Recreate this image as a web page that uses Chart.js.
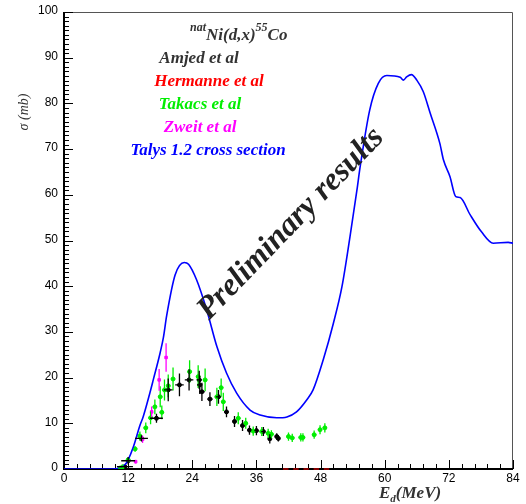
<!DOCTYPE html>
<html>
<head>
<meta charset="utf-8">
<script src="https://cdn.jsdelivr.net/npm/chart.js@4.4.0/dist/chart.umd.min.js"></script>
<style>
  html, body { margin: 0; padding: 0; background: #fff; overflow: hidden; }
  canvas { display: block; }
</style>
</head>
<body>
<canvas id="chart" width="526" height="504"></canvas>
<script>
// axis ticks
const xTicks = [0, 12, 24, 36, 48, 60, 72, 84];
const yTicks = [0, 10, 20, 30, 40, 50, 60, 70, 80, 90, 100];

// Talys 1.2 cross section (curve)
const talysE = [0, 9, 10.5, 11.4, 12, 13, 14.2, 14.8, 16.1, 16.7, 18, 18.6, 19.2, 20.8, 22.5, 23.3, 24.8, 26.7, 28.6, 30.4, 32.3, 34.8, 36.7, 39.8, 41.7, 43.5, 45.4, 46.6, 48.5, 50.4, 52, 53.5, 54.8, 55.4, 57.2, 58.8, 60.4, 62.9, 63.5, 64.1, 65, 66, 67.2, 68.5, 70.3, 71, 72.2, 73.3, 74.1, 76, 78.1, 80.3, 83.1, 84];
const talysS = [0, 0, 0.3, 0.9, 2.0, 4.9, 9.5, 11.4, 16.8, 19.5, 25.5, 28.8, 33.5, 42.5, 45.2, 44.8, 41.4, 34.8, 26.8, 21, 16.6, 12.9, 11.8, 11.2, 11.4, 12.5, 15.1, 17.3, 23.9, 31.9, 39.9, 50.8, 61, 66.1, 78.6, 84.4, 86.1, 85.7, 85.1, 85.8, 86.3, 85.1, 82.6, 77.9, 71.3, 67.6, 64, 59.6, 59.4, 55.6, 51.9, 49.4, 49.6, 49.4];

// Amjed et al
const amjedE = [11.4, 12.0, 14.5, 17.3, 19.5, 21.6, 23.4, 25.3, 25.4, 25.8, 27.3, 28.9, 30.4, 31.9, 33.4, 34.7, 36.0, 37.3, 38.5, 39.8, 40.1];
const amjedS = [0.5, 1.8, 6.7, 11.1, 17.3, 18.4, 19.5, 19.5, 18.4, 16.9, 15.3, 15.8, 12.5, 10.4, 9.5, 8.5, 8.4, 8.2, 6.6, 7.1, 6.7];
const amjedDE = [1.5, 1.3, 1.2, 1.2, 0.8, 0.8, 0.8, 0.5, 0.5, 0.5, 0.5, 0.5, 0.4, 0.4, 0.4, 0.4, 0.4, 0.4, 0.3, 0.3, 0.3];
const amjedDS = [0.4, 0.8, 0.7, 1.0, 2.5, 2.5, 2.3, 2.0, 2.0, 2.0, 1.5, 1.5, 1.2, 1.2, 1.2, 1.0, 1.0, 1.0, 1.0, 0.7, 0.7];

// Hermanne et al
const hermE = [41.5, 43.4, 45.3, 47.2, 49.1];
const hermS = [0, 0, 0, 0, 0];
const hermDE = [0.5, 0.5, 0.5, 0.5, 0.5];

// Takacs et al
const takE = [10.5, 11.0, 12.0, 13.3, 14.2, 15.3, 16.2, 17.0, 18.0, 18.3, 18.8, 19.5, 20.4, 23.5, 25.1, 26.4, 28.6, 29.4, 29.8, 32.6, 34.0, 35.4, 37.0, 38.2, 38.8, 42.0, 42.7, 44.3, 44.7, 46.8, 47.9, 48.8];
const takS = [0.2, 0.5, 2.0, 4.4, 7.2, 9.0, 11.2, 13.6, 15.8, 12.4, 17.3, 18.2, 19.7, 21.3, 20.2, 19.5, 15.8, 17.8, 14.7, 11.1, 10.0, 8.3, 8.2, 7.8, 7.6, 7.1, 6.8, 6.9, 6.9, 7.5, 8.6, 9.0];
const takDS = [0.2, 0.3, 0.4, 0.6, 1.0, 1.2, 1.4, 1.6, 2.3, 1.5, 2.3, 2.5, 2.5, 2.5, 2.5, 2.5, 2.0, 2.0, 2.0, 1.3, 1.2, 1.0, 1.0, 1.0, 0.9, 0.9, 0.9, 0.9, 0.9, 0.9, 1.0, 1.0];

// Zweit et al
const zweitE = [13.4, 14.7, 16.4, 17.8, 19.1];
const zweitS = [1.6, 6.5, 12.5, 19.5, 24.4];
const zweitDS = [0.4, 0.8, 1.2, 2.4, 3.1];

const pts = (xs, ys) => xs.map((x, i) => ({ x: x, y: ys[i] }));

const serif = '"Liberation Serif", "DejaVu Serif", serif';
const sans = '"Liberation Sans", Arial, sans-serif';

// axes and ticks drawn under the data, like the original
const frame = {
  id: 'frame',
  beforeDatasetsDraw(chart) {
    const ctx = chart.ctx;
    const xs = chart.scales.x, ys = chart.scales.y;
    const a = chart.chartArea;
    ctx.save();
    ctx.strokeStyle = '#555';
    ctx.lineWidth = 1;
    ctx.beginPath();
    ctx.moveTo(a.left, a.top + 0.5);
    ctx.lineTo(a.right - 0.5, a.top + 0.5);
    ctx.lineTo(a.right - 0.5, a.bottom);
    ctx.stroke();
    ctx.strokeStyle = '#000';
    ctx.lineWidth = 2;
    ctx.beginPath();
    ctx.moveTo(a.left, a.top);
    ctx.lineTo(a.left, a.bottom);
    ctx.lineTo(a.right, a.bottom);
    ctx.stroke();

    // y ticks (minor every 1)
    ctx.lineWidth = 1;
    for (let v = 0; v <= 100; v += 1) {
      const py = Math.round(ys.getPixelForValue(v)) + 0.5;
      const len = v % 10 === 0 ? 9 : 5;
      ctx.beginPath();
      ctx.moveTo(a.left, py);
      ctx.lineTo(a.left + len, py);
      ctx.stroke();
    }
    // x ticks (minor every 2.4)
    for (let k = 0; k <= 35; k++) {
      const px = Math.round(xs.getPixelForValue(k * 2.4)) + 0.5;
      const len = k % 5 === 0 ? 9 : 5;
      ctx.beginPath();
      ctx.moveTo(px, a.bottom);
      ctx.lineTo(px, a.bottom - len);
      ctx.stroke();
    }

    ctx.fillStyle = '#000';
    ctx.font = '12px ' + sans;
    ctx.textAlign = 'right';
    ctx.textBaseline = 'middle';
    yTicks.forEach((v) => ctx.fillText(String(v), a.left - 6, ys.getPixelForValue(v) - 1));
    ctx.textAlign = 'center';
    ctx.textBaseline = 'top';
    xTicks.forEach((v) => ctx.fillText(String(v), xs.getPixelForValue(v), a.bottom + 4));
    ctx.restore();
  }
};

const errorsAndText = {
  id: 'errorsAndText',
  afterDatasetsDraw(chart) {
    const ctx = chart.ctx;
    const xs = chart.scales.x, ys = chart.scales.y;

    chart.data.datasets.forEach((ds) => {
      if (!ds.errX && !ds.errY) return;
      ctx.save();
      ctx.strokeStyle = ds.barColor;
      ctx.lineWidth = 1.3;
      ds.data.forEach((p, i) => {
        const px = xs.getPixelForValue(p.x), py = ys.getPixelForValue(p.y);
        ctx.beginPath();
        if (ds.errX) {
          ctx.moveTo(xs.getPixelForValue(p.x - ds.errX[i]), py);
          ctx.lineTo(xs.getPixelForValue(p.x + ds.errX[i]), py);
        }
        if (ds.errY) {
          ctx.moveTo(px, ys.getPixelForValue(p.y - ds.errY[i]));
          ctx.lineTo(px, ys.getPixelForValue(p.y + ds.errY[i]));
        }
        ctx.stroke();
      });
      ctx.restore();
    });

    ctx.save();
    // axis titles
    ctx.fillStyle = '#333';
    ctx.font = 'italic 14px ' + serif;
    ctx.save();
    ctx.translate(24, 112);
    ctx.rotate(-Math.PI / 2);
    ctx.textAlign = 'center';
    ctx.textBaseline = 'middle';
    ctx.fillText('σ (mb)', 0, 0);
    ctx.restore();

    ctx.textAlign = 'left';
    ctx.textBaseline = 'alphabetic';
    ctx.font = 'bold italic 17px ' + serif;
    let tx = 379;
    ctx.fillText('E', tx, 498);
    tx += ctx.measureText('E').width;
    ctx.font = 'bold italic 11px ' + serif;
    ctx.fillText('d', tx, 502);
    tx += ctx.measureText('d').width;
    ctx.font = 'bold italic 17px ' + serif;
    ctx.fillText('(MeV)', tx, 498);

    // reaction title
    ctx.font = 'bold italic 12px ' + serif;
    let hx = 190;
    ctx.fillText('nat', hx, 31);
    hx += ctx.measureText('nat').width;
    ctx.font = 'bold italic 17px ' + serif;
    ctx.fillText('Ni(d,x)', hx, 40);
    hx += ctx.measureText('Ni(d,x)').width;
    ctx.font = 'bold italic 12px ' + serif;
    ctx.fillText('55', hx, 31);
    hx += ctx.measureText('55').width;
    ctx.font = 'bold italic 17px ' + serif;
    ctx.fillText('Co', hx, 40);

    const labels = [
      ['Amjed et al', '#333333', 199, 63],
      ['Hermanne et al', '#ff0000', 209, 86],
      ['Takacs et al', '#00ee00', 200, 109],
      ['Zweit et al', '#ff00ff', 200, 132],
      ['Talys 1.2 cross section', '#0000ff', 208, 155]
    ];
    ctx.textAlign = 'center';
    labels.forEach(([t, c, x, y]) => {
      ctx.fillStyle = c;
      ctx.fillText(t, x, y);
    });

    // watermark
    ctx.translate(291, 224);
    ctx.rotate(-46 * Math.PI / 180);
    ctx.fillStyle = '#222';
    ctx.font = 'bold italic 32px ' + serif;
    ctx.textAlign = 'center';
    ctx.textBaseline = 'middle';
    ctx.fillText('Preliminary results', 0, 0);
    ctx.restore();
  }
};

new Chart(document.getElementById('chart'), {
  type: 'scatter',
  data: {
    datasets: [
      {
        label: 'Talys 1.2 cross section',
        data: pts(talysE, talysS),
        showLine: true,
        borderColor: '#0000ff',
        borderWidth: 1.6,
        pointRadius: 0,
        cubicInterpolationMode: 'monotone'
      },
      {
        label: 'Hermanne et al',
        data: pts(hermE, hermS),
        pointRadius: 0,
        errX: hermDE,
        barColor: '#cc0000'
      },
      {
        label: 'Takacs et al',
        data: pts(takE, takS),
        pointRadius: 2,
        backgroundColor: '#00ee00',
        borderColor: '#00ee00',
        errX: takE.map(() => 0.4),
        errY: takDS,
        barColor: '#00ee00'
      },
      {
        label: 'Zweit et al',
        data: pts(zweitE, zweitS),
        pointStyle: 'rect',
        pointRadius: 1.8,
        backgroundColor: '#ff00ff',
        borderColor: '#ff00ff',
        errY: zweitDS,
        barColor: '#ff00ff'
      },
      {
        label: 'Amjed et al',
        data: pts(amjedE, amjedS),
        pointRadius: 2,
        backgroundColor: '#000',
        borderColor: '#000',
        errX: amjedDE,
        errY: amjedDS,
        barColor: '#000'
      }
    ]
  },
  options: {
    responsive: false,
    animation: false,
    layout: { padding: { left: 64, right: 13, top: 12, bottom: 35 } },
    plugins: { legend: { display: false }, tooltip: { enabled: false } },
    scales: {
      x: { type: 'linear', min: 0, max: 84, display: false },
      y: { type: 'linear', min: 0, max: 100, display: false }
    }
  },
  plugins: [frame, errorsAndText]
});
</script>
</body>
</html>
